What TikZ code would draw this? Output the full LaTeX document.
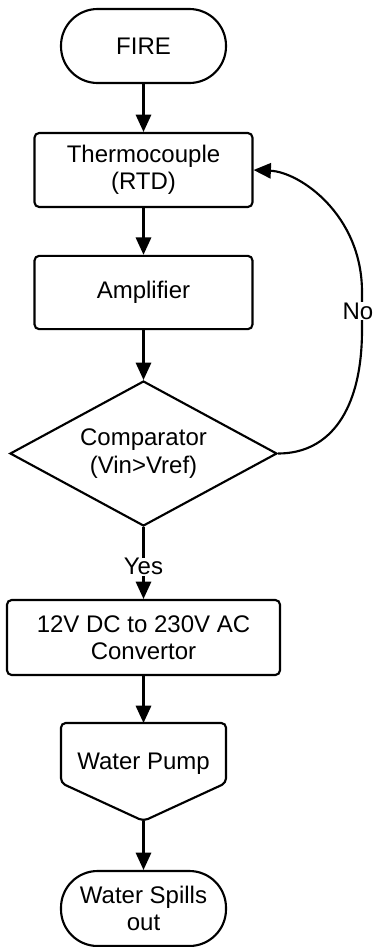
\documentclass[tikz,border=0pt]{standalone}
\usepackage{fontspec}
\setmainfont{Liberation Sans}
\usetikzlibrary{shapes.geometric,arrows.meta}
\begin{document}
\begin{tikzpicture}[x=0.75pt,y=-0.75pt,
  every node/.style={font=\fontsize{18pt}{20.5pt}\selectfont, align=center},
  boxnode/.style={draw, line width=1.6pt, rounded corners=3.5pt, inner sep=0pt},
  termnode/.style={draw, line width=1.6pt, rounded corners=27.5pt, inner sep=0pt,
     minimum width=123.75pt},
  decnode/.style={draw, line width=1.6pt, diamond, aspect=1.84, inner sep=0pt,
     minimum width=200.25pt, minimum height=108.75pt},
  arr/.style={line width=1.6pt, -{Triangle[length=13pt,width=11.5pt]}},
  lbl/.style={fill=white, inner sep=0.5pt}]
\useasboundingbox[fill=white] (0,0) rectangle (374,947);

\node[termnode, minimum height=55.5pt] (fire) at (143.5,46) {FIRE};
\node[boxnode, minimum width=163.5pt, minimum height=55.5pt] (thermo) at (143.5,170) {Thermocouple\\(RTD)};
\node[boxnode, minimum width=163.5pt, minimum height=55pt] (amp) at (143.5,292.5) {Amplifier};
\node[decnode] (comp) at (143.5,453.5) {Comparator\\(Vin>Vref)};
\node[boxnode, minimum width=204.75pt, minimum height=56.25pt] (conv) at (143.5,637.5) {12V DC to 230V AC\\Convertor};
\node[inner sep=0pt, minimum width=123.75pt, minimum height=61.5pt] (pump) at (143.5,764) {Water Pump};
\draw[line width=1.6pt, rounded corners=3.5pt] (61,723) -- (226,723) -- (226,783) -- (143.5,821) -- (61,783) -- cycle;
\coordinate (pumptip) at (143.5,821);
\node[termnode, minimum height=56.25pt] (spills) at (143.5,908.5) {Water Spills\\out};

\draw[arr] (fire) -- (thermo);
\draw[arr] (thermo) -- (amp);
\draw[arr] (amp) -- (comp.north);
\draw[arr] (comp.south) -- node[lbl, pos=0.55] (yes) {Yes} (conv);
\draw[arr] (conv) -- (143.5,723);
\draw[arr] (pumptip) -- (spills);
\draw[arr] (comp.east) .. controls (330,453.5) and (362,410) .. (362,330)
   -- node[lbl, xshift=-3pt] (no) {No} (362,292)
   .. controls (362,215) and (300,172) .. (thermo.east);
\end{tikzpicture}
\end{document}
